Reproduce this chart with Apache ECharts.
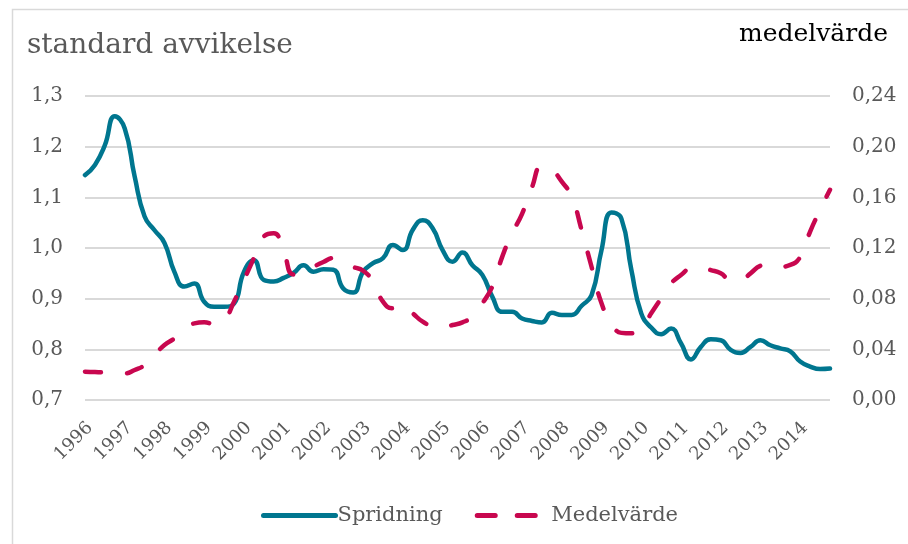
<!DOCTYPE html>
<html>
<head>
<meta charset="utf-8">
<script src="https://cdn.jsdelivr.net/npm/echarts@6/dist/echarts.min.js"></script>
<style>
html,body{margin:0;padding:0;background:#fff;}
#main{width:908px;height:544px;}
</style>
</head>
<body>
<div id="main"></div>
<script>
// Year tick labels
const years = ['1996','1997','1998','1999','2000','2001','2002','2003','2004','2005','2006','2007','2008','2009','2010','2011','2012','2013','2014'];
// Quarterly categories
const categories = [];
years.forEach(function (y) { ['K1','K2','K3','K4'].forEach(function (q) { categories.push(y + ' ' + q); }); });

// Spridning (standard avvikelse, left axis)
const spridning = [
  1.144, 1.164, 1.203, 1.260, 1.236, 1.141, 1.062, 1.035,
  1.010, 0.953, 0.924, 0.930, 0.894, 0.884, 0.884, 0.890,
  0.953, 0.976, 0.937, 0.934, 0.941, 0.951, 0.966, 0.953,
  0.958, 0.957, 0.920, 0.912, 0.953, 0.970, 0.980, 1.006,
  0.996, 1.036, 1.055, 1.039, 0.996, 0.973, 0.991, 0.966,
  0.947, 0.904, 0.874, 0.874, 0.861, 0.856, 0.853, 0.872,
  0.868, 0.868, 0.886, 0.907, 0.996, 1.070, 1.058, 0.957,
  0.871, 0.843, 0.830, 0.841, 0.812, 0.780, 0.805, 0.820,
  0.818, 0.799, 0.793, 0.805, 0.818, 0.808, 0.802, 0.796,
  0.776, 0.766, 0.761, 0.762
];

// Medelvärde (right axis)
const medelvarde = [
  0.0224, 0.0221, 0.0216, 0.0210, 0.0210, 0.0237, 0.0276, 0.0356,
  0.0434, 0.0487, 0.0553, 0.0605, 0.0613, 0.0600, 0.0630, 0.0776,
  0.0947, 0.1120, 0.1290, 0.1316, 0.1170, 0.0990, 0.1000, 0.1050,
  0.1090, 0.1120, 0.1080, 0.1050, 0.1020, 0.0934, 0.0776, 0.0724,
  0.0750, 0.0684, 0.0618, 0.0584, 0.0574, 0.0592, 0.0613, 0.0658,
  0.0763, 0.0895, 0.1130, 0.1316, 0.1470, 0.1680, 0.1847, 0.1816,
  0.1724, 0.1605, 0.1340, 0.1050, 0.0763, 0.0605, 0.0530, 0.0526,
  0.0566, 0.0684, 0.0803, 0.0920, 0.0987, 0.1040, 0.1047, 0.1026,
  0.1000, 0.0947, 0.0947, 0.1000, 0.1060, 0.1074, 0.1053, 0.1066,
  0.1130, 0.1330, 0.1500, 0.1660
];

const FONT = '"DejaVu Serif", serif';
const GRAY = '#595959';
const TEAL = '#00768F';
const RED = '#C8074F';

const chart = echarts.init(document.getElementById('main'), null, {renderer: 'canvas'});
chart.setOption({
  backgroundColor: '#ffffff',
  animation: false,
  graphic: [
    {type: 'rect', left: 10, top: 7, shape: {width: 920, height: 560},
     style: {fill: 'none', stroke: '#d9d9d9', lineWidth: 1.5}, silent: true},
    {type: 'text', left: 27, top: 32,
     style: {text: 'standard avvikelse', font: '28px ' + FONT, fill: GRAY}},
    {type: 'text', right: 20, top: 22,
     style: {text: 'medelvärde', font: '25px ' + FONT, fill: '#000000'}}
  ],
  grid: {left: 85, right: 78, top: 96, bottom: 144, containLabel: false},
  legend: {
    left: 256, top: 500,
    itemWidth: 72, itemHeight: 14, itemGap: 32,
    itemStyle: {opacity: 0},
    textStyle: {fontFamily: FONT, fontSize: 21, color: GRAY, padding: [0, 0, 0, -3]},
    data: [
      {name: 'Spridning', lineStyle: {width: 5, cap: 'round'}},
      {name: 'Medelvärde', lineStyle: {width: 5, type: [18, 22], cap: 'round'}}
    ]
  },
  xAxis: {
    type: 'category',
    data: categories,
    boundaryGap: false,
    axisLine: {show: false},
    axisTick: {show: false},
    splitLine: {show: false},
    axisLabel: {
      interval: function (i) { return i % 4 === 0; },
      formatter: function (v) { return v.slice(0, 4); },
      rotate: 45,
      margin: 30,
      padding: [0, -7, 0, 0],
      fontFamily: FONT, fontSize: 18, color: GRAY
    }
  },
  yAxis: [
    {
      type: 'value', min: 0.7, max: 1.3, interval: 0.1,
      axisLine: {show: false}, axisTick: {show: false},
      splitLine: {show: true, lineStyle: {color: '#d9d9d9', width: 2}},
      axisLabel: {
        margin: 22, fontFamily: FONT, fontSize: 20, color: GRAY,
        formatter: function (v) { return v.toFixed(1).replace('.', ','); }
      }
    },
    {
      type: 'value', min: 0, max: 0.24, interval: 0.04,
      axisLine: {show: false}, axisTick: {show: false},
      splitLine: {show: false},
      axisLabel: {
        margin: 22, fontFamily: FONT, fontSize: 20, color: GRAY,
        formatter: function (v) { return v.toFixed(2).replace('.', ','); }
      }
    }
  ],
  series: [
    {
      name: 'Spridning', type: 'line', yAxisIndex: 0,
      data: spridning, smooth: 0.5, symbol: 'none',
      lineStyle: {color: TEAL, width: 4.5, cap: 'round', join: 'round'},
      itemStyle: {color: TEAL}
    },
    {
      name: 'Medelvärde', type: 'line', yAxisIndex: 1,
      data: medelvarde, smooth: 0.5, symbol: 'none',
      lineStyle: {color: RED, width: 4.5, type: [16, 26], cap: 'round', join: 'round'},
      itemStyle: {color: RED}
    }
  ]
});
</script>
</body>
</html>
